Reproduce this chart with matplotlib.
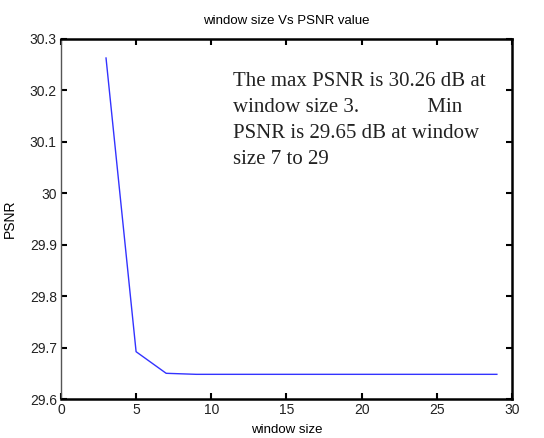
import matplotlib
matplotlib.use("Agg")
import matplotlib.pyplot as plt

window_size = [3, 5, 7, 9, 11, 13, 15, 17, 19, 21, 23, 25, 27, 29]
psnr = [30.263, 29.692, 29.650, 29.648, 29.648, 29.648, 29.648,
        29.648, 29.648, 29.648, 29.648, 29.648, 29.648, 29.648]

note = ("The max PSNR is 30.26 dB at\n"
        "window size 3.             Min\n"
        "PSNR is 29.65 dB at window\n"
        "size 7 to 29")

plt.rcParams["font.family"] = ["Liberation Sans", "DejaVu Sans"]

fig = plt.figure(figsize=(5.44, 4.38), dpi=100)
ax = fig.add_axes([0.112, 0.089, 0.829, 0.822])

ax.plot(window_size, psnr, color="#3333ff", lw=1)

ax.set_xlim(0, 30)
ax.set_ylim(29.6, 30.3)
ax.set_xticks([0, 5, 10, 15, 20, 25, 30])
ax.set_yticks([29.6, 29.7, 29.8, 29.9, 30, 30.1, 30.2, 30.3])
ax.set_yticklabels(["29.6", "29.7", "29.8", "29.9", "30", "30.1", "30.2", "30.3"])
ax.tick_params(direction="in", length=4, width=1.5, top=True, right=True,
               labelsize=10, labelcolor="#222222", pad=3)

for side in ["top", "bottom", "right"]:
    ax.spines[side].set_linewidth(1.8)
ax.spines["left"].set_linewidth(1)
ax.spines["left"].set_color("#555555")

ax.set_title("window size Vs PSNR value", fontsize=9.5, pad=11)
ax.set_xlabel("window size", fontsize=9.5, labelpad=5)
ax.set_ylabel("PSNR", fontsize=10, labelpad=9)

ax.text(11.44, 30.236, note, fontsize=15, family="Liberation Serif",
        va="top", ha="left", linespacing=1.5, color="#222222")

fig.savefig("out.png", dpi=100)
